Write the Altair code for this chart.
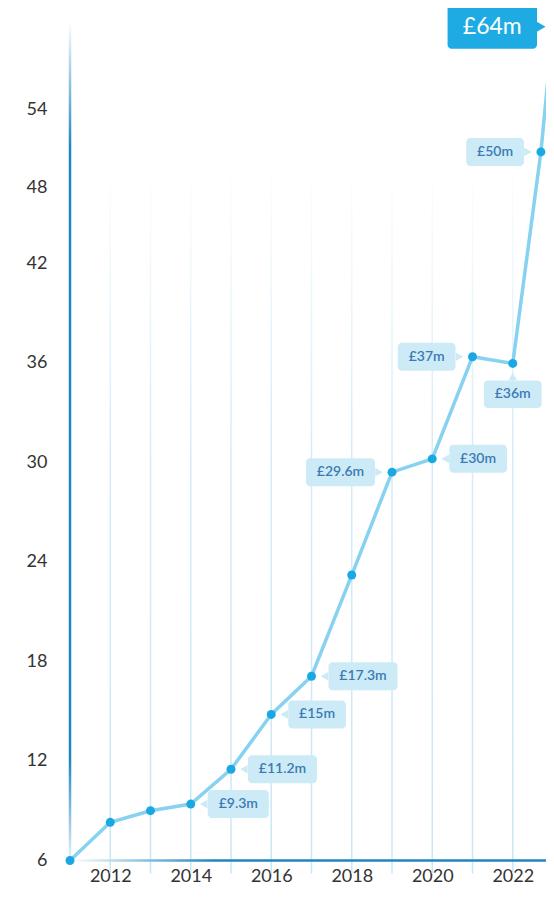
import altair as alt
import pandas as pd

# ---- data ----
years = [2011, 2012, 2013, 2014, 2015, 2016, 2017, 2018, 2019, 2020, 2021, 2022, 2022.7, 2023]
values = [6.0, 8.3, 9.0, 9.4, 11.5, 14.8, 17.1, 23.2, 29.4, 30.2, 36.35, 35.95, 50.7, 64.0]
labels = ["", "", "", "£9.3m", "£11.2m", "£15m", "£17.3m", "", "£29.6m", "£30m",
          "£37m", "£36m", "£50m", "£64m"]
sides = ["", "", "", "right", "right", "right", "right", "", "left", "right",
         "left", "below", "left", "big"]
grid_years = list(range(2012, 2024))
x_ticks = list(range(2011, 2024))
y_ticks = [6, 12, 18, 24, 30, 36, 42, 48, 54]
y_breaks = [6, 42, 48, 54, 64]

# ---- layout / style constants ----
XR = 483            # pixel span 2011 -> 2023
W = 476             # visible view width (page is narrower than the full span)
H = 849.5
PPY = XR / 12.0
Y_RANGE = [849.5, 252, 176, 98, 15.7]

LINE = "#86d2f0"
POINT = "#1aa8e2"
BOX = "#cdeaf7"
BOX_TEXT = "#3b7bb3"
BIG = "#1eabe3"
AXIS_BLUE = "#1d86c0"
FONT = "Lato"

df = pd.DataFrame({"year": years, "value": values, "label": labels, "side": sides})
one = pd.DataFrame({"k": [0]})

xs = alt.Scale(domain=[2011, 2023], range=[0, XR], nice=False, zero=False)
ys = alt.Scale(domain=y_breaks, range=Y_RANGE, nice=False, zero=False)

X_AX = alt.Axis(
    values=x_ticks, title=None, domain=False, ticks=False, tickSize=0, grid=False,
    labelExpr="datum.value % 2 == 0 ? format(datum.value, 'd') : ''",
    labelFont=FONT, labelFontSize=18, labelColor="#333333", labelPadding=21,
    labelBaseline="alphabetic",
)
Y_AX = alt.Axis(
    values=y_ticks, title=None, domain=False, ticks=False, tickSize=0, grid=False,
    labelFont=FONT, labelFontSize=18, labelColor="#333333", labelPadding=23,
)


def grad(stops, vertical=True):
    return alt.LinearGradient(
        gradient="linear",
        x1=0, y1=0,
        x2=0 if vertical else 1,
        y2=1 if vertical else 0,
        stops=[alt.GradientStop(color=c, offset=o) for o, c in stops],
    )


def xf(field):
    return alt.X(field, type="quantitative", scale=xs, axis=X_AX)


def yf(field):
    return alt.Y(field, type="quantitative", scale=ys, axis=Y_AX)


grid = alt.Chart(pd.DataFrame({"year": grid_years})).mark_rect(
    fill=grad([(0, "#ffffff"), (0.4, "#d5edf9"), (1, "#c9e7f6")]),
    xOffset=-0.75, x2Offset=0.75, y2Offset=13,
).encode(
    x=xf("year"),
    x2=alt.X2("year"),
    y=alt.YDatum(50.3, type="quantitative", scale=ys, axis=Y_AX),
    y2=alt.Y2Datum(6),
)

xline = alt.Chart(one).mark_rect(
    fill=grad([(0, "#ffffff"), (0.3, AXIS_BLUE), (1, AXIS_BLUE)], vertical=False),
    yOffset=-1.25, y2Offset=1.25,
).encode(
    x=alt.XDatum(2011, type="quantitative", scale=xs, axis=X_AX),
    x2=alt.X2Datum(2023),
    y=alt.YDatum(6, type="quantitative", scale=ys, axis=Y_AX),
    y2=alt.Y2Datum(6),
)

yline = alt.Chart(one).mark_rect(
    fill=grad([(0, "#ffffff"), (0.15, AXIS_BLUE), (0.88, AXIS_BLUE), (1, "#e6f3fa")]),
    xOffset=-1.25, x2Offset=1.25, yOffset=-5,
).encode(
    x=alt.XDatum(2011, type="quantitative", scale=xs, axis=X_AX),
    x2=alt.X2Datum(2011),
    y=alt.YDatum(64, type="quantitative", scale=ys, axis=Y_AX),
    y2=alt.Y2Datum(6),
)

line = alt.Chart(df).mark_line(color=LINE, strokeWidth=3.5).encode(
    x=xf("year"), y=yf("value"),
)

points = alt.Chart(df).mark_circle(size=80, color=POINT, opacity=1).encode(
    x=xf("year"), y=yf("value"),
)

WEXPR = "34 + 7.9*(length(datum.label)-1) - (indexof(datum.label, '.') >= 0 ? 4.5 : 0)"


def label_layers(side):
    b = alt.Chart(df).transform_filter(f"datum.side == '{side}'").transform_calculate(
        w=WEXPR if side != "big" else f"1.55*({WEXPR})"
    ).transform_calculate(
        xr=f"datum.year + datum.w/{PPY}",
        xl=f"datum.year - datum.w/{PPY}",
        xmr=f"datum.year + datum.w/{2 * PPY}",
        xml=f"datum.year - datum.w/{2 * PPY}",
    )
    small_txt = dict(font=FONT, fontSize=14, fontWeight=600, color=BOX_TEXT,
                     align="center", baseline="middle")
    if side == "right":
        box = b.mark_rect(fill=BOX, cornerRadius=4, xOffset=17, x2Offset=17,
                          yOffset=-14, y2Offset=14).encode(
            x=xf("year"), x2="xr:Q", y=yf("value"), y2="value:Q")
        tri = b.mark_point(shape="triangle-left", filled=True, fill=BOX, opacity=1,
                           strokeWidth=0, size=75, xOffset=13).encode(
            x=xf("year"), y=yf("value"))
        txt = b.mark_text(xOffset=17, **small_txt).encode(
            x=xf("xmr"), y=yf("value"), text="label:N")
    elif side == "left":
        box = b.mark_rect(fill=BOX, cornerRadius=4, xOffset=-17, x2Offset=-17,
                          yOffset=-14, y2Offset=14).encode(
            x=xf("year"), x2="xl:Q", y=yf("value"), y2="value:Q")
        tri = b.mark_point(shape="triangle-right", filled=True, fill=BOX, opacity=1,
                           strokeWidth=0, size=75, xOffset=-13).encode(
            x=xf("year"), y=yf("value"))
        txt = b.mark_text(xOffset=-17, **small_txt).encode(
            x=xf("xml"), y=yf("value"), text="label:N")
    elif side == "below":
        box = b.mark_rect(fill=BOX, cornerRadius=4, yOffset=17, y2Offset=44.5).encode(
            x=xf("xml"), x2="xmr:Q", y=yf("value"), y2="value:Q")
        tri = b.mark_point(shape="triangle-up", filled=True, fill=BOX, opacity=1,
                           strokeWidth=0, size=75, yOffset=13).encode(
            x=xf("year"), y=yf("value"))
        txt = b.mark_text(yOffset=31, **small_txt).encode(
            x=xf("year"), y=yf("value"), text="label:N")
    else:  # big highlighted label
        box = b.mark_rect(fill=BIG, cornerRadius=4, xOffset=-16, x2Offset=-16,
                          yOffset=-22, y2Offset=22).encode(
            x=xf("year"), x2="xl:Q", y=yf("value"), y2="value:Q")
        tri = b.mark_point(shape="triangle-right", filled=True, fill=BIG, opacity=1,
                           strokeWidth=0, size=110, xOffset=-12).encode(
            x=xf("year"), y=yf("value"))
        txt = b.mark_text(font=FONT, fontSize=23, color="#ffffff", xOffset=-16,
                          align="center", baseline="middle").encode(
            x=xf("xml"), y=yf("value"), text="label:N")
    return [box, tri, txt]


layers = [grid, xline, yline, line, points]
for s in ["right", "left", "below", "big"]:
    layers += label_layers(s)

chart = alt.layer(*layers).properties(
    width=W,
    height=H,
    autosize=alt.AutoSizeParams(type="none"),
    padding={"left": 62, "top": 3, "right": 0, "bottom": 27.5},
).configure_view(stroke=None)

chart.save("out.html", embed_options={"renderer": "svg", "actions": False})
